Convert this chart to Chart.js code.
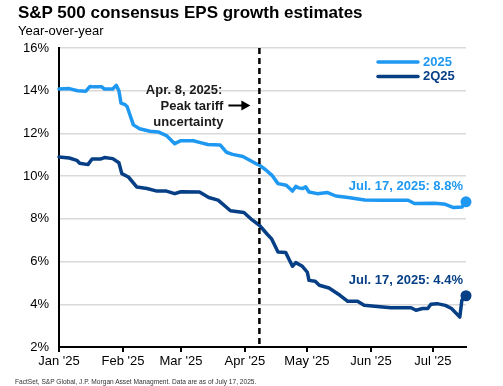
<!DOCTYPE html>
<html>
<head>
<meta charset="utf-8">
<script src="https://cdn.jsdelivr.net/npm/chart.js@4.4.1/dist/chart.umd.min.js"></script>
<style>
  html, body { margin: 0; padding: 0; background: #fff; }
  #wrap { position: relative; width: 503px; height: 386px; font-family: "Liberation Sans", Arial, sans-serif; }
  #title { position: absolute; left: 18px; top: 4px; font-size: 17px; font-weight: bold; line-height: 1; color: #000; white-space: nowrap; }
  #subtitle { position: absolute; left: 18px; top: 24px; font-size: 13px; line-height: 1; color: #000; white-space: nowrap; }
  #source { position: absolute; left: 15px; top: 379px; font-size: 6.6px; line-height: 1; color: #333; white-space: nowrap; }
  #chart-box { position: absolute; left: 0; top: 0; width: 503px; height: 386px; }
  #eps-chart { display: block; }
</style>
</head>
<body>
<div id="wrap">
  <div id="chart-box"><canvas id="eps-chart" width="503" height="386"></canvas></div>
  <div id="title">S&amp;P 500 consensus EPS growth estimates</div>
  <div id="subtitle">Year-over-year</div>
  <div id="source">FactSet, S&amp;P Global, J.P. Morgan Asset Managment. Data are as of July 17, 2025.</div>
</div>
<script>
// days counted from Jan 1, 2025
const monthStarts = [0, 31, 59, 90, 120, 151, 181];
const monthLabels = ["Jan '25", "Feb '25", "Mar '25", "Apr '25", "May '25", "Jun '25", "Jul '25"];
const lastDay = 197;   // Jul 17
const tariffDay = 97;  // Apr 8

const days2025 = [0, 5, 9, 13, 15, 17, 20.7, 22, 26, 27.7, 29, 30, 32, 33, 36, 39, 44, 48, 52, 56, 59, 65, 68, 72, 78, 81, 84, 89, 95, 97, 100, 103, 106, 110, 113, 114.6, 116, 118, 119.4, 121, 125, 130, 134, 140, 148, 156, 169, 172, 182, 187, 191, 195, 197];
const vals2025 = [14.08, 14.1, 14.0, 13.98, 14.2, 14.18, 14.18, 14.08, 14.08, 14.25, 14.0, 13.42, 13.35, 13.25, 12.4, 12.22, 12.1, 12.07, 11.9, 11.52, 11.66, 11.66, 11.58, 11.48, 11.46, 11.12, 11.02, 10.92, 10.6, 10.52, 10.3, 10.05, 9.65, 9.57, 9.3, 9.52, 9.45, 9.42, 9.5, 9.26, 9.18, 9.23, 9.07, 9.0, 8.88, 8.87, 8.87, 8.72, 8.73, 8.68, 8.53, 8.55, 8.8];

const daysQ2 = [0, 5, 8.6, 10, 14, 16, 20, 22, 26, 29, 30.4, 33.6, 37.7, 42.6, 47.4, 52, 56, 59, 68, 72.5, 77, 83, 89.5, 93.5, 97, 100.8, 103, 106, 109.7, 113, 114.6, 117.8, 120.2, 121, 124, 126, 130.7, 136, 139.8, 144.5, 147.7, 154, 160.7, 170.4, 172.8, 176, 178.5, 180, 183, 187, 190, 194, 195, 197];
const valsQ2 = [10.9, 10.85, 10.74, 10.6, 10.54, 10.8, 10.8, 10.87, 10.82, 10.63, 10.12, 9.96, 9.49, 9.42, 9.3, 9.3, 9.18, 9.27, 9.26, 9.0, 8.88, 8.38, 8.3, 7.95, 7.7, 7.28, 7.05, 6.45, 6.43, 5.78, 5.95, 5.78, 5.5, 5.12, 5.08, 4.89, 4.76, 4.42, 4.14, 4.14, 3.95, 3.9, 3.84, 3.84, 3.72, 3.8, 3.8, 4.0, 4.03, 3.95, 3.8, 3.4, 4.19, 4.4];

const seriesNames = ['2025', '2Q25'];
const seriesColors = ['#1f98f2', '#063f85'];
const endLabels = ['Jul. 17, 2025: 8.8%', 'Jul. 17, 2025: 4.4%'];

const FONT = '"Liberation Sans", Arial, sans-serif';

function toPoints(xs, ys) {
    return xs.map((d, i) => ({ x: d, y: ys[i] }));
}

function endDot(ctx) {
    return ctx.dataIndex === ctx.dataset.data.length - 1 ? 5.5 : 0;
}

// dashed marker line, arrow note, legend and end labels
const annotations = {
    id: 'annotations',
    afterDatasetsDraw(chart) {
        const { ctx, chartArea, scales: { x, y } } = chart;
        const px = x.getPixelForValue(tariffDay);
        ctx.save();

        ctx.strokeStyle = '#000';
        ctx.lineWidth = 2.5;
        ctx.setLineDash([6, 4]);
        ctx.beginPath();
        ctx.moveTo(px, chartArea.top);
        ctx.lineTo(px, chartArea.bottom);
        ctx.stroke();
        ctx.setLineDash([]);

        ctx.font = 'bold 13px ' + FONT;
        ctx.fillStyle = '#1a1a1a';
        ctx.textAlign = 'right';
        ctx.textBaseline = 'middle';
        ctx.fillText('Apr. 8, 2025:', px - 37, 90);
        ctx.fillText('Peak tariff', px - 36, 106);
        ctx.fillText('uncertainty', px - 36, 122);

        // arrow
        ctx.strokeStyle = '#000';
        ctx.lineWidth = 2;
        ctx.beginPath();
        ctx.moveTo(px - 31, 105.5);
        ctx.lineTo(px - 16, 105.5);
        ctx.stroke();
        ctx.fillStyle = '#000';
        ctx.beginPath();
        ctx.moveTo(px - 9, 105.5);
        ctx.lineTo(px - 18, 100.5);
        ctx.lineTo(px - 18, 110.5);
        ctx.closePath();
        ctx.fill();

        // legend
        ctx.textAlign = 'left';
        ctx.lineWidth = 3.5;
        ctx.lineCap = 'round';
        seriesNames.forEach((name, i) => {
            const ly = 62 + i * 14.5;
            ctx.strokeStyle = seriesColors[i];
            ctx.beginPath();
            ctx.moveTo(378, ly);
            ctx.lineTo(418, ly);
            ctx.stroke();
            ctx.fillStyle = seriesColors[i];
            ctx.fillText(name, 423, ly);
        });

        // end-of-line labels
        ctx.textAlign = 'right';
        chart.data.datasets.forEach((ds, i) => {
            const last = ds.data[ds.data.length - 1];
            ctx.fillStyle = seriesColors[i];
            ctx.fillText(endLabels[i], x.getPixelForValue(last.x) - 3, y.getPixelForValue(last.y) - 15);
        });

        ctx.restore();
    }
};

new Chart(document.getElementById('eps-chart'), {
    type: 'line',
    data: {
        datasets: [
            { label: seriesNames[0], data: toPoints(days2025, vals2025) },
            { label: seriesNames[1], data: toPoints(daysQ2, valsQ2) }
        ].map((ds, i) => Object.assign(ds, {
            borderColor: seriesColors[i],
            backgroundColor: seriesColors[i],
            borderWidth: 3.5,
            borderJoinStyle: 'round',
            borderCapStyle: 'round',
            tension: 0,
            clip: false,
            pointRadius: endDot,
            pointHoverRadius: endDot,
            pointBorderWidth: 0
        }))
    },
    options: {
        responsive: false,
        animation: false,
        events: [],
        layout: { padding: { top: 48, right: 37, left: 0, bottom: 0 } },
        plugins: { legend: { display: false }, tooltip: { enabled: false } },
        scales: {
            x: {
                type: 'linear',
                min: 0,
                max: lastDay,
                afterBuildTicks: (scale) => { scale.ticks = monthStarts.map(v => ({ value: v })); },
                afterFit: (scale) => { scale.height = 39; },
                ticks: {
                    autoSkip: false,
                    maxRotation: 0,
                    padding: 2,
                    color: '#000',
                    font: { family: FONT, size: 13 },
                    callback: (v) => monthLabels[monthStarts.indexOf(v)]
                },
                grid: { drawOnChartArea: false, drawTicks: true, tickLength: 5, color: '#000', lineWidth: 2 },
                border: { color: '#000', width: 2 }
            },
            y: {
                min: 2,
                max: 16,
                afterFit: (scale) => { scale.width = 59; },
                ticks: {
                    stepSize: 2,
                    padding: 10,
                    color: '#000',
                    font: { family: FONT, size: 13 },
                    callback: (v) => v + '%'
                },
                grid: { color: '#d9d9d9', lineWidth: 1.5, drawTicks: false },
                border: { color: '#000', width: 2 }
            }
        }
    },
    plugins: [annotations]
});
</script>
</body>
</html>
